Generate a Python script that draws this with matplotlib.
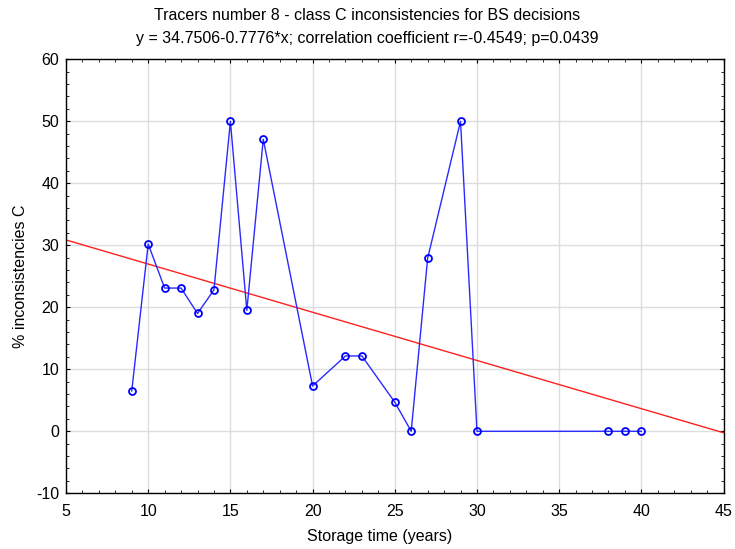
import numpy as np
import matplotlib
matplotlib.use("Agg")
import matplotlib.pyplot as plt
from matplotlib.ticker import MultipleLocator

plt.rcParams['font.family'] = ['Liberation Sans', 'DejaVu Sans']
plt.rcParams['axes.unicode_minus'] = False

# storage time (years) and % class C inconsistencies
years = [9, 10, 11, 12, 13, 14, 15, 16, 17, 20, 22, 23, 25, 26, 27, 29, 30, 38, 39, 40]
incons = [6.5, 30.2, 23.1, 23.1, 19.0, 22.8, 50.0, 19.5, 47.1, 7.3, 12.15, 12.15,
          4.7, 0.0, 27.9, 50.0, 0.0, 0.0, 0.0, 0.0]

# regression fit from the title
intercept = 34.7506
slope = -0.7776

fig = plt.figure(figsize=(7.35, 5.49), dpi=100)
ax = fig.add_axes([0.0898, 0.1015, 0.8946, 0.7905])

xfit = np.array([5, 45])
ax.plot(xfit, intercept + slope * xfit, color="#ff2020", lw=1.0, zorder=2)
ax.plot(years, incons, color="#2a2aff", lw=1.0, marker="o", ms=5,
        mfc="none", mec="#0000ff", mew=1.3, zorder=3)

ax.set_xlim(5, 45)
ax.set_ylim(-10, 60)
ax.xaxis.set_major_locator(MultipleLocator(5))
ax.xaxis.set_minor_locator(MultipleLocator(1))
ax.yaxis.set_major_locator(MultipleLocator(10))
ax.yaxis.set_minor_locator(MultipleLocator(2))
ax.tick_params(which="both", direction="in", top=True, right=True, labelsize=11.5)
ax.tick_params(axis="x", which="major", pad=8)
ax.tick_params(axis="y", which="major", pad=5)
ax.tick_params(which="major", length=3, width=0.8)
ax.tick_params(which="minor", length=2, width=0.6)
ax.grid(True, which="major", color="#dedede", lw=1.0, zorder=0)
ax.set_axisbelow(True)
for s in ax.spines.values():
    s.set_linewidth(1.0)

ax.set_ylabel("% inconsistencies C", fontsize=11.5, labelpad=6)
fig.text(0.517, 0.022, "Storage time (years)", fontsize=11.5, ha="center", va="center")
fig.text(0.5, 0.971, "Tracers number 8 - class C inconsistencies for BS decisions",
         fontsize=11.5, ha="center", va="center")
fig.text(0.5, 0.929, "y = 34.7506-0.7776*x; correlation coefficient r=-0.4549; p=0.0439",
         fontsize=11.5, ha="center", va="center")

fig.savefig("out.png", dpi=100)
